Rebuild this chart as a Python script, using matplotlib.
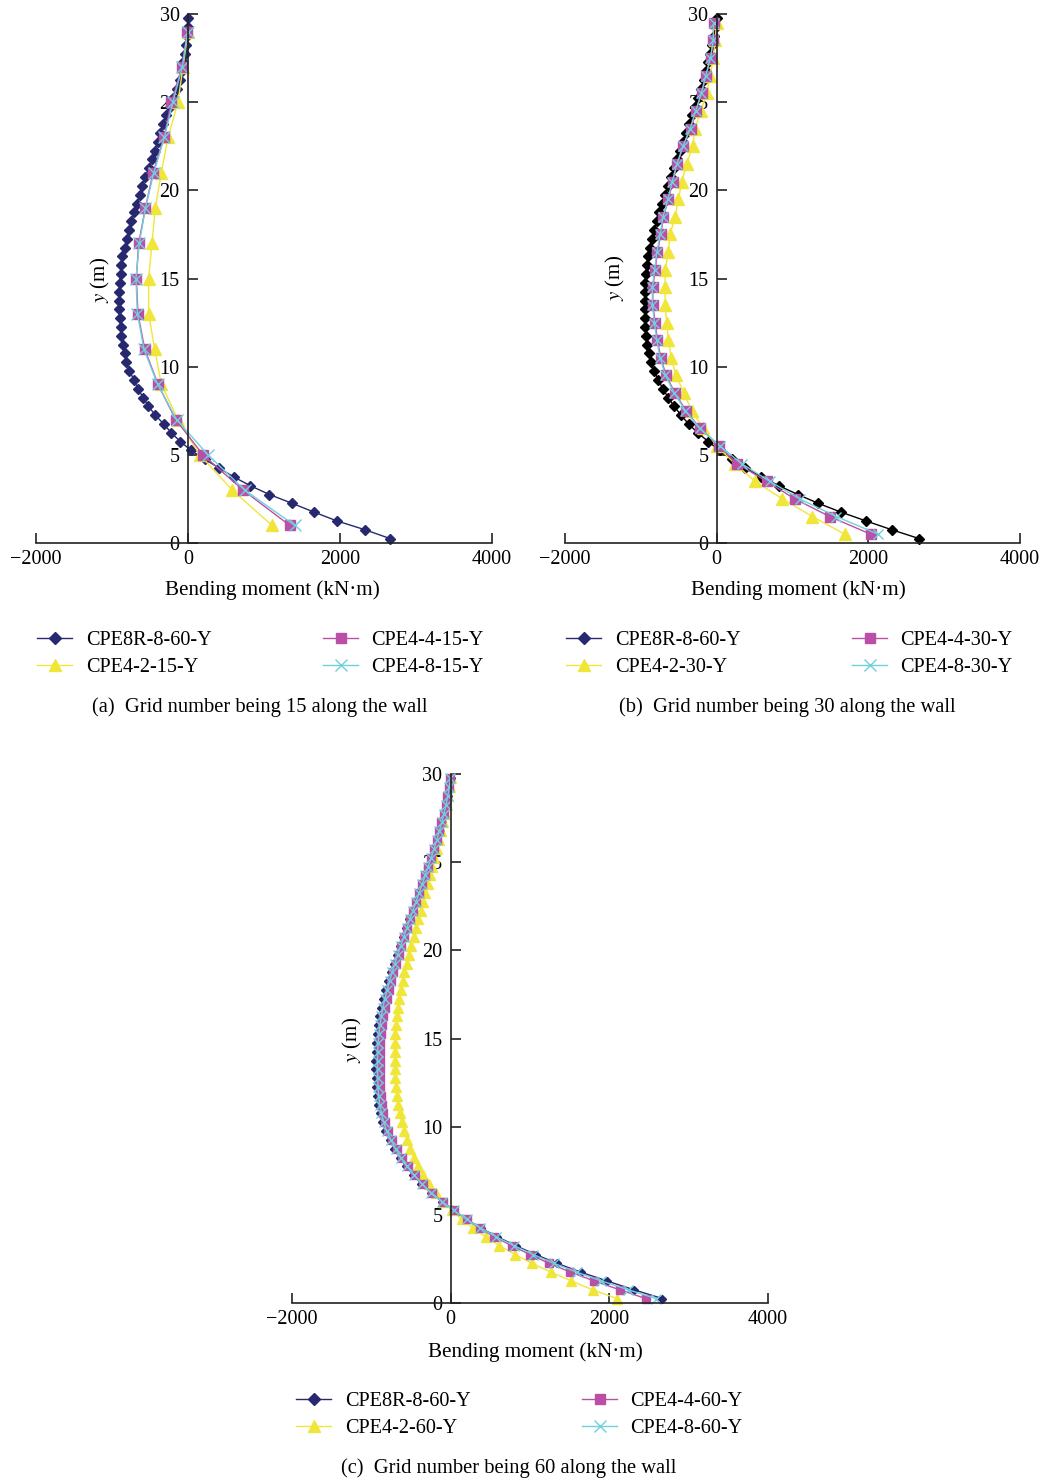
import numpy as np
import matplotlib
matplotlib.use("Agg")
import matplotlib.pyplot as plt
from matplotlib.lines import Line2D

plt.rcParams['font.family'] = ['Liberation Serif', 'DejaVu Serif']
plt.rcParams['mathtext.fontset'] = 'stix'

# depths of the nodes (m)
y15 = [1, 3, 5, 7, 9, 11, 13, 15, 17, 19, 21, 23, 25, 27, 29]
y30 = [0.5, 1.5, 2.5, 3.5, 4.5, 5.5, 6.5, 7.5, 8.5, 9.5, 10.5, 11.5, 12.5, 13.5, 14.5,
       15.5, 16.5, 17.5, 18.5, 19.5, 20.5, 21.5, 22.5, 23.5, 24.5, 25.5, 26.5, 27.5, 28.5, 29.5]
y60 = [0.25, 0.75, 1.25, 1.75, 2.25, 2.75, 3.25, 3.75, 4.25, 4.75,
       5.25, 5.75, 6.25, 6.75, 7.25, 7.75, 8.25, 8.75, 9.25, 9.75,
       10.25, 10.75, 11.25, 11.75, 12.25, 12.75, 13.25, 13.75, 14.25, 14.75,
       15.25, 15.75, 16.25, 16.75, 17.25, 17.75, 18.25, 18.75, 19.25, 19.75,
       20.25, 20.75, 21.25, 21.75, 22.25, 22.75, 23.25, 23.75, 24.25, 24.75,
       25.25, 25.75, 26.25, 26.75, 27.25, 27.75, 28.25, 28.75, 29.25, 29.75]

# bending moments (kN.m)
m8r_a = [2660, 2330, 1960, 1660, 1370, 1070, 820, 600, 410, 220,
         40, -100, -220, -320, -430, -520, -590, -660, -710, -770,
         -810, -835, -855, -875, -888, -898, -902, -906, -906, -900,
         -888, -876, -862, -835, -805, -772, -745, -705, -672, -636,
         -600, -560, -518, -478, -440, -400, -362, -325, -288, -240,
         -195, -150, -110, -85, -60, -35, -22, -10, -3, 0]
m4_2_15 = [1105, 583, 154, -132, -351, -439, -518, -518, -474, -430, -351, -263, -132, -66, 0]
m4_4_15 = [1338, 724, 197, -162, -395, -570, -658, -680, -649, -561, -460, -316, -219, -79, -9]
m4_8_15 = [1404, 746, 263, -150, -400, -580, -665, -685, -640, -560, -450, -310, -200, -75, -5]

m8r_bc = [2670, 2310, 1970, 1640, 1340, 1070, 820, 590, 380, 200,
          40, -110, -250, -370, -470, -560, -640, -710, -770, -825,
          -865, -895, -918, -932, -940, -945, -948, -948, -946, -940,
          -930, -918, -900, -878, -852, -822, -790, -755, -718, -680,
          -640, -600, -560, -520, -480, -440, -400, -360, -320, -282,
          -245, -208, -172, -140, -110, -82, -56, -34, -15, 0]
m4_2_30 = [1689, 1263, 868, 504, 241, 0, -175, -329, -430, -535, -601, -636, -658, -680, -680,
           -680, -636, -614, -548, -504, -460, -395, -316, -285, -210, -132, -88, -44, -22, 0]
m4_4_30 = [2031, 1491, 1031, 658, 272, 35, -219, -404, -548, -667, -737, -781, -811, -842, -842,
           -811, -781, -737, -702, -636, -579, -518, -439, -342, -272, -197, -140, -79, -44, -40]
m4_8_30 = [2127, 1579, 1096, 700, 329, 44, -225, -412, -558, -675, -745, -790, -820, -848, -848,
           -818, -788, -745, -708, -642, -585, -525, -445, -350, -278, -202, -145, -82, -46, -40]

m4_2_60 = [2100, 1790, 1520, 1265, 1025, 810, 615, 445, 280, 140,
           15, -95, -190, -270, -345, -410, -465, -510, -550, -585,
           -615, -640, -660, -676, -688, -697, -703, -706, -707, -705,
           -700, -692, -680, -665, -648, -628, -606, -582, -556, -528,
           -498, -468, -438, -408, -378, -348, -318, -290, -262, -234,
           -206, -178, -150, -122, -96, -72, -50, -30, -14, -2]
m4_4_60 = [2460, 2130, 1810, 1510, 1240, 1000, 770, 550, 365, 200,
           40, -100, -235, -350, -450, -540, -615, -680, -735, -785,
           -822, -850, -870, -882, -890, -894, -896, -896, -894, -888,
           -878, -866, -850, -830, -806, -780, -752, -722, -690, -656,
           -620, -584, -548, -510, -472, -434, -396, -358, -320, -284,
           -248, -212, -178, -146, -116, -88, -62, -40, -22, -8]
m4_8_60 = [2590, 2240, 1900, 1590, 1300, 1040, 800, 575, 375, 200,
           38, -105, -242, -360, -460, -550, -628, -695, -752, -805,
           -843, -872, -894, -907, -915, -919, -922, -922, -920, -914,
           -904, -892, -875, -854, -829, -801, -771, -738, -704, -668,
           -630, -592, -554, -515, -476, -437, -398, -359, -320, -283,
           -246, -210, -175, -143, -113, -85, -59, -37, -18, -4]

navy = '#27286f'
yellow = '#f0e63a'
magenta = '#bb4fa6'
cyan = '#6fd0dc'

W, H = 1044, 1483
fig = plt.figure(figsize=(W / 100, H / 100), dpi=100)


def make_axes(l, r, t, b):
    ax = fig.add_axes([l / W, 1 - b / H, (r - l) / W, (b - t) / H])
    ax.set_xlim(-2000, 4000)
    ax.set_ylim(0, 30)
    ax.spines['left'].set_position(('data', 0))
    ax.spines['right'].set_visible(False)
    ax.spines['top'].set_visible(False)
    for s in ['left', 'bottom']:
        ax.spines[s].set_linewidth(1.2)
        ax.spines[s].set_color('#222222')
    ax.set_xticks([-2000, 0, 2000, 4000])
    ax.set_yticks([0, 5, 10, 15, 20, 25, 30])
    ax.tick_params(direction='in', length=7, width=1.2, labelsize=14.5, color='#222222')
    ax.tick_params(axis='x', pad=5)
    ax.tick_params(axis='y', pad=6)
    ax.patch.set_visible(False)
    return ax


def legend(ax, x, y, names, first_color):
    handles = [
        Line2D([], [], color=first_color, lw=1, marker='D', ms=6, mfc=first_color, mec=first_color),
        Line2D([], [], color=yellow, lw=1, marker='^', ms=9, mfc=yellow, mec=yellow),
        Line2D([], [], color=magenta, lw=1, marker='s', ms=6.5, mfc=magenta, mec=magenta),
        Line2D([], [], color=cyan, lw=1, marker='x', ms=8, mew=1, mec=cyan),
    ]
    ax.legend(handles, names, ncol=2, loc='upper left', bbox_to_anchor=(x / W, 1 - y / H),
              bbox_transform=fig.transFigure, frameon=False, fontsize=14.6,
              borderpad=0, borderaxespad=0, handlelength=1.75, handletextpad=0.65,
              columnspacing=5.5, labelspacing=0.36)


def labels(ax, xl, ycx, ycy):
    fig.text(xl[0] / W, 1 - xl[1] / H, 'Bending moment (kN·m)', ha='center', va='center', fontsize=15.2)
    fig.text(ycx / W, 1 - ycy / H, '$y$ (m)', ha='center', va='center', rotation=90, fontsize=15)


# (a)
ax = make_axes(36, 492, 14, 543)
ax.plot(m8r_a, y60, color=navy, lw=1, marker='D', ms=5.5, clip_on=False)
ax.plot(m4_2_15, y15, color=yellow, lw=1, marker='^', ms=9, clip_on=False)
ax.plot(m4_4_15, y15, color=magenta, lw=1, marker='s', ms=6.5, clip_on=False)
ax.plot(m4_8_15, y15, color=cyan, lw=1, marker='x', ms=8, mew=1, clip_on=False)
labels(ax, (272, 590), 100, 280)
legend(ax, 37, 631, ['CPE8R-8-60-Y', 'CPE4-2-15-Y', 'CPE4-4-15-Y', 'CPE4-8-15-Y'], navy)
fig.text(260 / W, 1 - 707 / H, '(a)  Grid number being 15 along the wall', ha='center', va='center', fontsize=14.8)

# (b)
ax = make_axes(565, 1020, 14, 543)
ax.plot(m8r_bc, y60, color='black', lw=1, marker='D', ms=5, clip_on=False)
ax.plot(m4_2_30, y30, color=yellow, lw=1, marker='^', ms=8.5, clip_on=False)
ax.plot(m4_4_30, y30, color=magenta, lw=1, marker='s', ms=6.5, clip_on=False)
ax.plot(m4_8_30, y30, color=cyan, lw=1, marker='x', ms=7.5, mew=1, clip_on=False)
labels(ax, (798, 590), 615, 278)
legend(ax, 566, 631, ['CPE8R-8-60-Y', 'CPE4-2-30-Y', 'CPE4-4-30-Y', 'CPE4-8-30-Y'], navy)
fig.text(787 / W, 1 - 707 / H, '(b)  Grid number being 30 along the wall', ha='center', va='center', fontsize=14.8)

# (c)
ax = make_axes(292, 768, 774, 1303)
ax.plot(m8r_bc, y60, color=navy, lw=1, marker='D', ms=4.5, clip_on=False)
ax.plot(m4_2_60, y60, color=yellow, lw=1, marker='^', ms=7.5, clip_on=False)
ax.plot(m4_4_60, y60, color=magenta, lw=1, marker='s', ms=6, clip_on=False)
ax.plot(m4_8_60, y60, color=cyan, lw=1, marker='x', ms=6.5, mew=1, clip_on=False)
labels(ax, (535, 1352), 352, 1040)
legend(ax, 296, 1392, ['CPE8R-8-60-Y', 'CPE4-2-60-Y', 'CPE4-4-60-Y', 'CPE4-8-60-Y'], navy)
fig.text(509 / W, 1 - 1468 / H, '(c)  Grid number being 60 along the wall', ha='center', va='center', fontsize=14.8)

fig.savefig('out.png', dpi=100)
